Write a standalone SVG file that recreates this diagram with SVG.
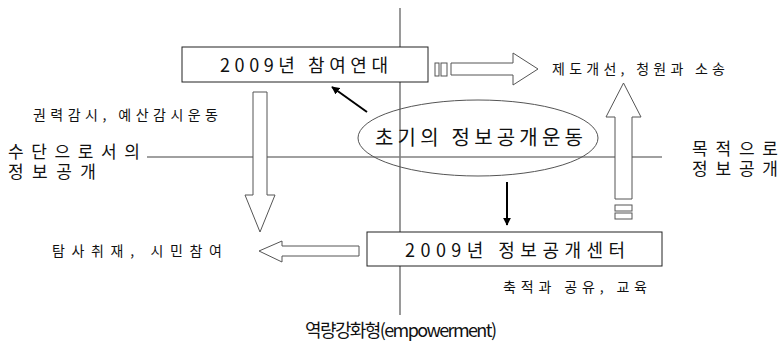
<svg xmlns="http://www.w3.org/2000/svg" width="782" height="349" viewBox="0 0 782 349">
<style>
text{font-family:"Noto Sans CJK KR","Noto Sans",sans-serif;fill:#111}
.s{font-size:14px}
.m{font-size:17px;font-family:"Liberation Sans","Noto Sans CJK KR",sans-serif}
.axis{stroke:#808080;stroke-width:1.6;fill:none}
.box{fill:#fff;stroke:#222;stroke-width:1}
.fat{fill:#fff;stroke:#555;stroke-width:1}
.con{stroke:#000;stroke-width:2;fill:none}
</style>
<defs>
<marker id="ah" viewBox="0 0 10 10" refX="9" refY="5" markerWidth="4" markerHeight="4" orient="auto" markerUnits="strokeWidth">
<path d="M0,0 L10,5 L0,10 z" fill="#000"/>
</marker>
</defs>
<g id="axes">
<line class="axis" x1="400" y1="8" x2="400" y2="315"/>
<line class="axis" x1="147" y1="157" x2="662" y2="157"/>
</g>
<g id="labels">
<text class="s" x="33" y="120" textLength="185" lengthAdjust="spacing">권력감시, 예산감시운동</text>
<text class="m" x="8" y="158" textLength="132" lengthAdjust="spacing">수단으로서의</text>
<text class="m" x="8" y="178" textLength="88" lengthAdjust="spacing">정보공개</text>
<text class="m" x="692" y="155" textLength="86" lengthAdjust="spacing">목적으로</text>
<text class="m" x="692" y="175" textLength="86" lengthAdjust="spacing">정보공개</text>
<text class="s" x="552" y="74" textLength="173" lengthAdjust="spacing">제도개선, 청원과 소송</text>
<text class="s" x="52" y="256" textLength="170" lengthAdjust="spacing">탐사취재, 시민참여</text>
<text class="s" x="503" y="292" textLength="144" lengthAdjust="spacing">축적과 공유, 교육</text>
<text x="305" y="337" font-size="18" textLength="192" lengthAdjust="spacing">역량강화형(empowerment)</text>
</g>
<g id="connectors">
<line class="con" x1="367" y1="112" x2="332" y2="87" marker-end="url(#ah)"/>
<line class="con" x1="507" y1="182" x2="507" y2="225" marker-end="url(#ah)"/>
<path class="fat" d="M253,92 H267 V195 H275 L260,232 L245,195 H253 Z"/>
<path class="fat" d="M359,246 H282 V241 L259,251 L282,262 V256 H359 Z"/>
<rect class="fat" x="435" y="63" width="4" height="13"/>
<rect class="fat" x="441" y="63" width="6" height="13"/>
<path class="fat" d="M451,63 H513 V53 L538,69 L513,85 V75 H451 Z"/>
<path class="fat" d="M615,199 V117 H606 L623.5,83 L641,117 H632 V199 Z"/>
<rect class="fat" x="615" y="205" width="17" height="6"/>
<rect class="fat" x="615" y="213" width="17" height="6"/>
</g>
<g id="node-top">
<rect class="box" x="182" y="47" width="246" height="35"/>
<text x="220" y="72" font-size="18" textLength="168" lengthAdjust="spacing">2009년 참여연대</text>
</g>
<g id="node-center">
<ellipse cx="478" cy="138" rx="120" ry="38" fill="none" stroke="#555" stroke-width="1"/>
<text x="375" y="145" font-size="20" textLength="208" lengthAdjust="spacing">초기의 정보공개운동</text>
</g>
<g id="node-bottom">
<rect class="box" x="367" y="232" width="295" height="34"/>
<text x="405" y="257" font-size="18" textLength="220" lengthAdjust="spacing">2009년 정보공개센터</text>
</g>
</svg>
